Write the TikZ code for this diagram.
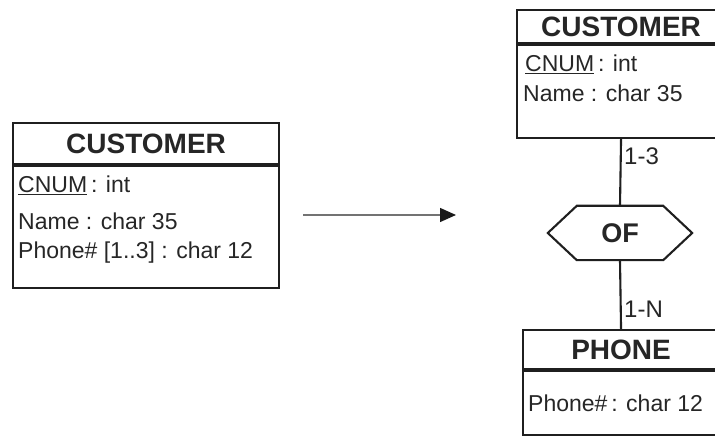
\documentclass[tikz,border=0pt]{standalone}
\usepackage{fontspec}
\setmainfont{Liberation Sans}
\usetikzlibrary{arrows.meta}
\begin{document}
\begin{tikzpicture}[x=1pt,y=1pt,
  frame/.style={draw=black!88, line width=2.1pt, rectangle, inner sep=0pt, anchor=north west},
  title/.style={frame, text=black!85, font=\bfseries\fontsize{28}{28}\selectfont, text depth=0pt},
  attr/.style={anchor=base west, inner sep=0pt, text=black!85, font=\fontsize{23}{23}\selectfont},
  card/.style={anchor=base west, inner sep=0pt, text=black!85, font=\fontsize{24}{24}\selectfont},
  link/.style={draw=black!88, line width=2.1pt},
  relbox/.style={inner sep=0pt, minimum width=144pt, minimum height=54pt, text=black!85, font=\bfseries\fontsize{27}{27}\selectfont},
]
\useasboundingbox (0,0) rectangle (715,436);

% entity with a multi-valued attribute
\node[title, minimum width=266pt, minimum height=41pt] (lh) at (12,314) {CUSTOMER};
\node[frame, minimum width=266pt, minimum height=122pt] (lb) at (lh.south west) {};
\node[attr] (l1) at (18,243) {\underline{CNUM}\,: int};
\node[attr] (l2) at (18,206) {Name : char 35};
\node[attr] (l3) at (18,177) {Phone\# [1..3] : char 12};

% transformation arrow
\coordinate (a0) at (303,221);
\coordinate (a1) at (456,221);
\draw[draw=black!55, line width=1.4pt, -{Triangle[length=16pt,width=14pt,color=black!90]}] (a0) -- (a1);

% resulting entities and relationship
\node[title, minimum width=208pt, minimum height=33pt] (rh) at (516,427) {CUSTOMER};
\node[frame, minimum width=208pt, minimum height=93pt] (rb) at (rh.south west) {};
\node[attr] (r1) at (525,364) {\underline{CNUM}\,: int};
\node[attr] (r2) at (523,334) {Name : char 35};

\node[relbox] (of) at (620,203) {OF};
\draw[link] (of.west) -- ([xshift=29pt]of.north west) -- ([xshift=-29pt]of.north east)
  -- (of.east) -- ([xshift=-29pt]of.south east) -- ([xshift=29pt]of.south west) -- cycle;

\node[title, minimum width=196pt, minimum height=39pt] (ph) at (522,107) {PHONE};
\node[frame, minimum width=196pt, minimum height=64pt] (pb) at (ph.south west) {};
\node[attr] (p1) at (528,24) {Phone\#\,: char 12};

\draw[link] (rb.south) -- (of.north);
\draw[link] (of.south) -- (ph.north);
\node[card] (c1) at (624,271) {1-3};
\node[card] (c2) at (624,118) {1-N};
\end{tikzpicture}
\end{document}
